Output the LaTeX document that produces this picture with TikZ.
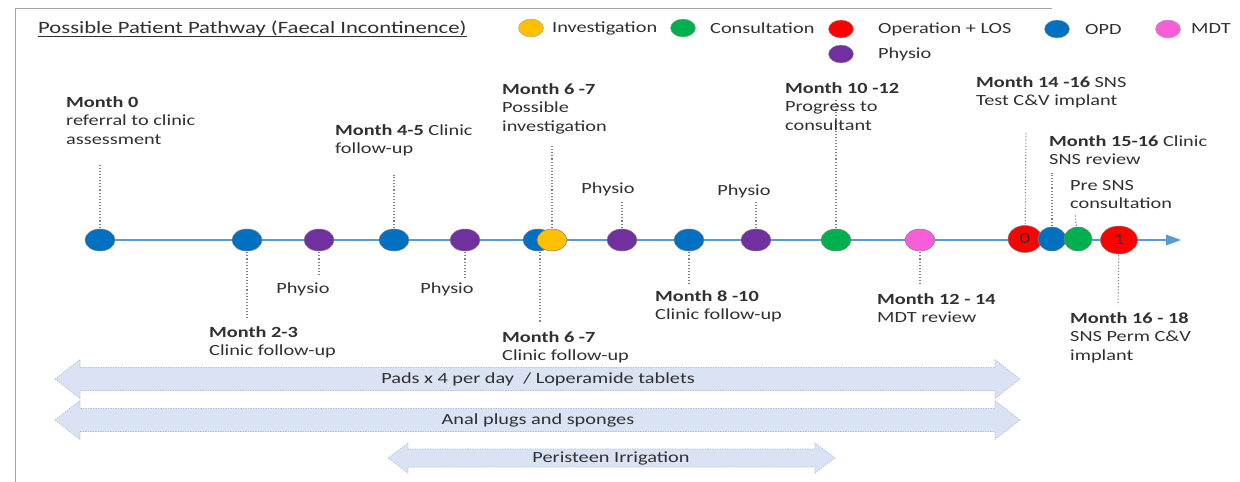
\documentclass[tikz,border=0pt]{standalone}
\usepackage{fontspec}
\setmainfont{Carlito}[FakeStretch=1.31]
\usetikzlibrary{shapes.geometric}
\definecolor{opd}{HTML}{0070C0}
\definecolor{phys}{HTML}{7030A0}
\definecolor{inv}{HTML}{FFC000}
\definecolor{cons}{HTML}{00B050}
\definecolor{oper}{HTML}{FF0000}
\definecolor{mdt}{HTML}{F75ED8}
\definecolor{tline}{HTML}{5B9BD5}
\definecolor{bandfill}{HTML}{DAE3F3}
\definecolor{bandline}{HTML}{AFC1E0}
\definecolor{framec}{HTML}{A6A6A6}
\definecolor{txt}{HTML}{303030}
\newcommand\labf{\fontsize{15.5}{18.5}\selectfont}
\newcommand\titf{\fontsize{17.3}{20}\selectfont}
\newcommand\bandshape[6]{%
  \filldraw[band] (#1,#3) -- ({#1+#6},{#3-#4}) -- ({#1+#6},{#3-#5}) -- ({#2-#6},{#3-#5}) -- ({#2-#6},{#3-#4}) -- (#2,#3) -- ({#2-#6},{#3+#4}) -- ({#2-#6},{#3+#5}) -- ({#1+#6},{#3+#5}) -- ({#1+#6},{#3+#4}) -- cycle;}
\begin{document}
\begin{tikzpicture}[x=1pt,y=-1pt,
  dot/.style={ellipse, minimum width=30pt, minimum height=22pt, inner sep=0pt, draw=black!50, line width=0.5pt},
  bigdot/.style={dot, fill=oper, minimum width=34pt, minimum height=27pt, font=\labf, text=black!80},
  legdot/.style={ellipse, minimum width=25pt, minimum height=18pt, inner sep=0pt, draw=black!35, line width=0.4pt},
  legtext/.style={anchor=west, inner sep=0pt, font=\labf, text=txt},
  lab/.style={anchor=north west, inner sep=0pt, align=left, font=\labf, text=txt},
  phys/.style={anchor=center, inner sep=0pt, font=\labf, text=txt},
  conn/.style={draw=black!50, dotted, line width=1.1pt, shorten <=1pt},
  band/.style={fill=bandfill, draw=bandline, dash pattern=on 1.5pt off 1pt, line width=0.6pt},
  bandtext/.style={anchor=center, inner sep=0pt, font=\labf, text=txt}]
\useasboundingbox (0,0) rectangle (1240,482);
% frame
\draw[framec, line width=1pt] (15,482) -- (15,8) -- (1052,8);
% title
\node[anchor=base west, inner sep=0pt, font=\titf, text=txt] (title) at (38,33) {Possible Patient Pathway (Faecal Incontinence)};
\draw[txt, line width=0.8pt] ([yshift=-3.5pt]title.base west) -- ([yshift=-3.5pt]title.base east);
% legend
\node[legdot, fill=inv] (lg1) at (531,28) {};
\node[legtext] (lt1) at (552,28) {Investigation};
\node[legdot, fill=cons] (lg2) at (683,28) {};
\node[legtext] (lt2) at (710,28) {Consultation};
\node[legdot, fill=oper] (lg3) at (841,29) {};
\node[legtext] (lt3) at (878,29) {Operation + LOS};
\node[legdot, fill=opd] (lg4) at (1057,29) {};
\node[legtext] (lt4) at (1085,30) {OPD};
\node[legdot, fill=mdt] (lg5) at (1168,29) {};
\node[legtext] (lt5) at (1191,29) {MDT};
\node[legdot, fill=phys] (lg6) at (841,54) {};
\node[legtext] (lt6) at (878,54) {Physio};
% timeline
\coordinate (tl0) at (85,240);
\coordinate (tl1) at (1181,240);
\draw[tline, line width=2.8pt] (tl0) -- (1168,240);
\fill[tline] (tl1) -- (1166,234.5) -- (1166,245.5) -- cycle;
% dots
\node[dot, fill=opd] (d1) at (100,240) {};
\node[dot, fill=opd] (d2) at (247,240) {};
\node[dot, fill=phys] (d3) at (319,240) {};
\node[dot, fill=opd] (d4) at (394,240) {};
\node[dot, fill=phys] (d5) at (465,240) {};
\node[dot, fill=opd] (d6) at (538,240) {};
\node[dot, fill=inv] (d6i) at (552,240) {};
\node[dot, fill=phys] (d7) at (622,240) {};
\node[dot, fill=opd] (d8) at (689,240) {};
\node[dot, fill=phys] (d9) at (756,240) {};
\node[dot, fill=cons] (d10) at (836,240) {};
\node[dot, fill=mdt] (d11) at (920,240) {};
\node[bigdot] (d12) at (1025,239) {0};
\node[dot, fill=opd, minimum width=28pt, minimum height=24pt] (d13) at (1052,239) {};
\node[dot, fill=cons, minimum width=28pt, minimum height=24pt] (d14) at (1078,239) {};
\node[bigdot, minimum width=37pt, minimum height=28pt] (d15) at (1119,240) {1};
% connector ends
\coordinate (t1) at (100,165);
\coordinate (t2) at (247,318);
\coordinate (t3) at (319,276);
\coordinate (t4) at (394,175);
\coordinate (t5) at (465,278);
\coordinate (t6) at (540,322);
\coordinate (t6i) at (552,145);
\coordinate (t7) at (622,200);
\coordinate (t8) at (689,285);
\coordinate (t9) at (756,202);
\coordinate (t10) at (836,100);
\coordinate (t11) at (920,285);
\coordinate (t12) at (1026,133);
\coordinate (t13) at (1052,173);
\coordinate (t14) at (1075,214);
\coordinate (t15) at (1118,305);
\draw[conn] (d1) -- (t1);
\draw[conn] (d2) -- (t2);
\draw[conn] (d3) -- (t3);
\draw[conn] (d4) -- (t4);
\draw[conn] (d5) -- (t5);
\draw[conn] (d6.south) ++(2pt,0) -- (t6);
\draw[conn] (d6i) -- (t6i);
\draw[conn] (d7) -- (t7);
\draw[conn] (d8) -- (t8);
\draw[conn] (d9) -- (t9);
\draw[conn] (d10) -- (t10);
\draw[conn] (d11) -- (t11);
\draw[conn] (d12) -- (t12);
\draw[conn] (d13) -- (t13);
\draw[conn] (d14) -- (t14);
\draw[conn] (d15) -- (t15);
% labels
\node[lab] (l1) at (66,96) {\textbf{Month 0}\\referral to clinic\\assessment};
\node[lab] (l2) at (209,326) {\textbf{Month 2-3}\\Clinic follow-up};
\node[phys] (l3) at (303,289) {Physio};
\node[lab] (l4) at (335,124) {\textbf{Month 4-5} Clinic\\follow-up};
\node[phys] (l5) at (447,289) {Physio};
\node[lab] (l6i) at (502,83) {\textbf{Month 6 -7}\\Possible\\investigation};
\node[lab] (l6) at (502,331) {\textbf{Month 6 -7}\\Clinic follow-up};
\node[phys] (l7) at (608,189) {Physio};
\node[lab] (l8) at (655,290) {\textbf{Month 8 -10}\\Clinic follow-up};
\node[phys] (l9) at (744,191) {Physio};
\node[lab] (l10) at (785,82) {\textbf{Month 10 -12}\\Progress to\\consultant};
\node[lab] (l11) at (877,293) {\textbf{Month 12 - 14}\\MDT review};
\node[lab] (l12) at (976,76) {\textbf{Month 14 -16} SNS\\Test C\&V implant};
\node[lab] (l13) at (1049,135) {\textbf{Month 15-16} Clinic\\SNS review};
\node[lab] (l14) at (1070,180) {Pre SNS\\consultation};
\node[lab] (l15) at (1070,312) {\textbf{Month 16 - 18}\\SNS Perm C\&V\\implant};
% bands
\bandshape{55}{1020}{379}{19.5}{11.5}{25}
\node[bandtext] (b1) at (538,379) {Pads x 4 per day\ \ / Loperamide tablets};
\bandshape{55}{1020}{420}{19.5}{11.5}{25}
\node[bandtext] (b2) at (538,420) {Anal plugs and sponges};
\bandshape{388}{835}{458}{15}{9}{20}
\node[bandtext] (b3) at (611,458) {Peristeen Irrigation};
\end{tikzpicture}
\end{document}
